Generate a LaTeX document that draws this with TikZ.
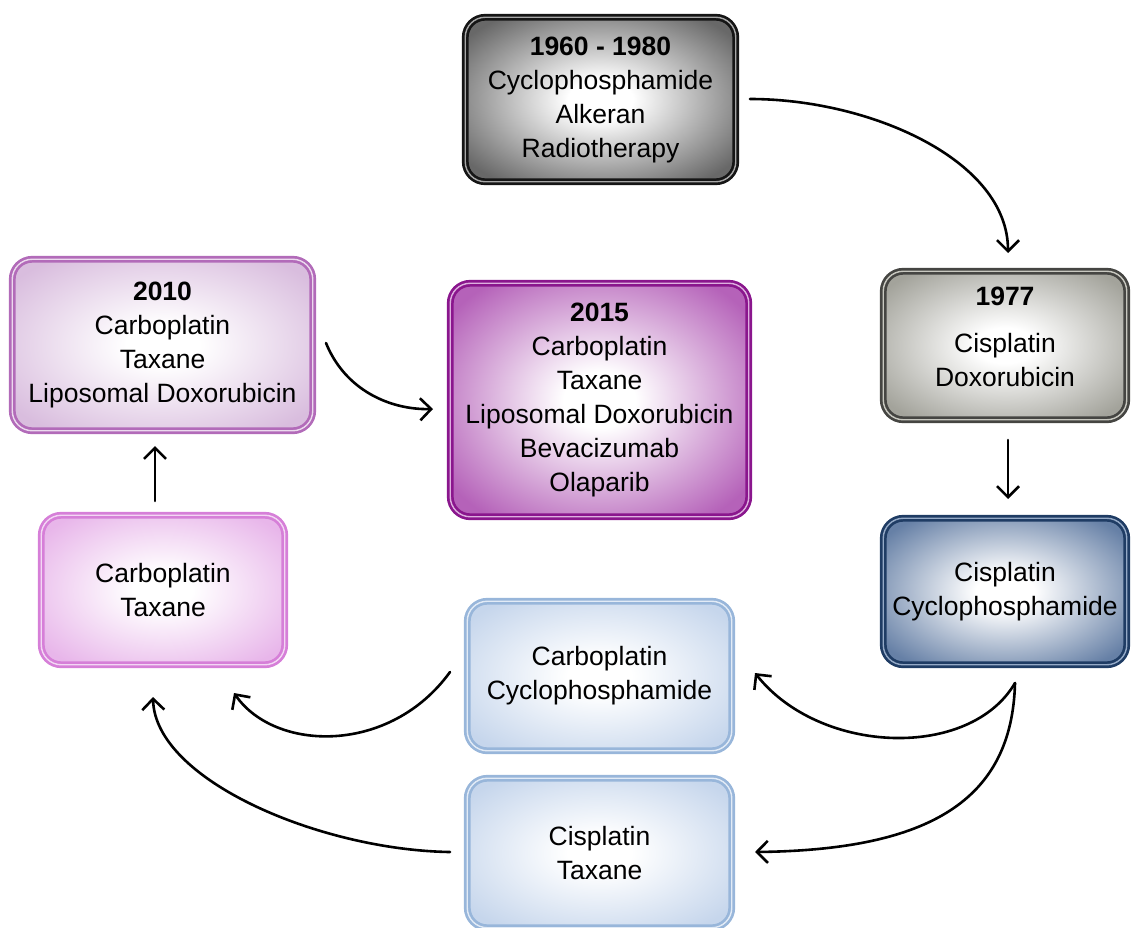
\documentclass[tikz,border=0pt]{standalone}
\usepackage{fontspec}
\setmainfont{Liberation Sans}
\usetikzlibrary{arrows.meta}
\definecolor{gAdraw}{HTML}{151515}
\definecolor{gAdbl}{HTML}{A8A8A8}
\definecolor{gAout}{HTML}{686868}
\definecolor{gBdraw}{HTML}{454542}
\definecolor{gBdbl}{HTML}{C8C8C0}
\definecolor{gBout}{HTML}{A3A39B}
\definecolor{dbdraw}{HTML}{1F3C64}
\definecolor{dbdbl}{HTML}{95AAC7}
\definecolor{dbout}{HTML}{6680A6}
\definecolor{lbdraw}{HTML}{98B6DA}
\definecolor{lbdbl}{HTML}{E2EBF6}
\definecolor{lbout}{HTML}{C6D6EC}
\definecolor{pkdraw}{HTML}{D67FD8}
\definecolor{pkdbl}{HTML}{F3D8F4}
\definecolor{pkout}{HTML}{E8B6EA}
\definecolor{mvdraw}{HTML}{B26BB9}
\definecolor{mvdbl}{HTML}{ECDAEE}
\definecolor{mvout}{HTML}{D9BDDE}
\definecolor{ppdraw}{HTML}{8A168D}
\definecolor{ppdbl}{HTML}{DDB0DF}
\definecolor{ppout}{HTML}{B562B9}
\newcommand{\mkshade}[2]{%
  \pgfdeclareradialshading{#1}{\pgfpoint{0bp}{0bp}}{%
    color(0bp)=(white); color(6bp)=(white); color(31bp)=(#2); color(50bp)=(#2)}}
\mkshade{shgA}{gAout}
\mkshade{shgB}{gBout}
\mkshade{shdb}{dbout}
\mkshade{shlb}{lbout}
\mkshade{shpk}{pkout}
\mkshade{shmv}{mvout}
\mkshade{shpp}{ppout}
\tikzset{
  box/.style={rounded corners=20pt, line width=2.7pt, double distance=1.4pt,
    inner sep=0pt, align=center, text=black,
    font=\fontsize{26.5pt}{34pt}\selectfont},
  txt/.style={inner sep=0pt, align=center, text=black,
    font=\fontsize{26.5pt}{34pt}\selectfont},
  grayA/.style={box, draw=gAdraw, double=gAdbl, shading=shgA},
  grayB/.style={box, draw=gBdraw, double=gBdbl, shading=shgB},
  darkblue/.style={box, draw=dbdraw, double=dbdbl, shading=shdb},
  lightblue/.style={box, draw=lbdraw, double=lbdbl, shading=shlb},
  pinkbox/.style={box, draw=pkdraw, double=pkdbl, shading=shpk},
  mauvebox/.style={box, draw=mvdraw, double=mvdbl, shading=shmv},
  purplebox/.style={box, draw=ppdraw, double=ppdbl, shading=shpp},
  conn/.style={line width=2.6pt, line cap=round,
    -{Straight Barb[length=11pt,width=22pt,line width=2.6pt]}}
}
\begin{document}
\begin{tikzpicture}[x=1pt,y=-1pt]
\useasboundingbox (0,0) rectangle (1131,927);
% boxes
\node[grayA, minimum width=270.5pt, minimum height=164.5pt] (g1) at (600.5,99.5)
  {\textbf{1960 - 1980}\\Cyclophosphamide\\Alkeran\\Radiotherapy};
\node[grayB, minimum width=243.5pt, minimum height=148.5pt] (g2) at (1005,345.5) {};
\node[txt] (g2t) at (1005,337) {\textbf{1977}\\[13pt]Cisplatin\\Doxorubicin};
\node[darkblue, minimum width=243.5pt, minimum height=146.5pt] (db) at (1005,591.5)
  {Cisplatin\\Cyclophosphamide};
\node[lightblue, minimum width=264.5pt, minimum height=149.5pt] (lb1) at (599.5,676)
  {Carboplatin\\Cyclophosphamide};
\node[lightblue, minimum width=264.5pt, minimum height=149.5pt] (lb2) at (599.5,853)
  {Cisplatin\\Taxane};
\node[pinkbox, minimum width=243.5pt, minimum height=149.5pt] (pk) at (163,590)
  {Carboplatin\\Taxane};
\node[mauvebox, minimum width=300.5pt, minimum height=171.5pt] (p10) at (162.5,345)
  {\textbf{2010}\\Carboplatin\\Taxane\\Liposomal Doxorubicin};
\node[purplebox, minimum width=298.5pt, minimum height=233.5pt] (p15) at (599.5,400)
  {\textbf{2015}\\Carboplatin\\Taxane\\Liposomal Doxorubicin\\Bevacizumab\\Olaparib};
% connector end points
\coordinate (a1s) at (750,99);
\coordinate (a1e) at (1008,253);
\coordinate (a2s) at (1008,440);
\coordinate (a2e) at (1008,499);
\coordinate (a3s) at (1015,683);
\coordinate (a3e) at (755,673);
\coordinate (a4e) at (755,852);
\coordinate (a5s) at (450,672);
\coordinate (a5e) at (234,693);
\coordinate (a6s) at (450,852);
\coordinate (a6e) at (153,697);
\coordinate (a7s) at (155,501);
\coordinate (a7e) at (155,446);
\coordinate (a8s) at (326,343);
\coordinate (a8e) at (433,409);
% connectors
\draw[conn] (a1s) .. controls (870,99) and (1008,160) .. (a1e);
\draw[conn] (a2s) -- (a2e);
\draw[conn] (a3s) .. controls (970,760) and (820,755) .. (a3e);
\draw[conn] (a3s) .. controls (1012,800) and (930,850) .. (a4e);
\draw[conn] (a5s) .. controls (390,755) and (275,752) .. (a5e);
\draw[conn] (a6s) .. controls (320,850) and (155,780) .. (a6e);
\draw[conn] (a7s) -- (a7e);
\draw[conn] (a8s) .. controls (345,390) and (390,410) .. (a8e);
\end{tikzpicture}
\end{document}
